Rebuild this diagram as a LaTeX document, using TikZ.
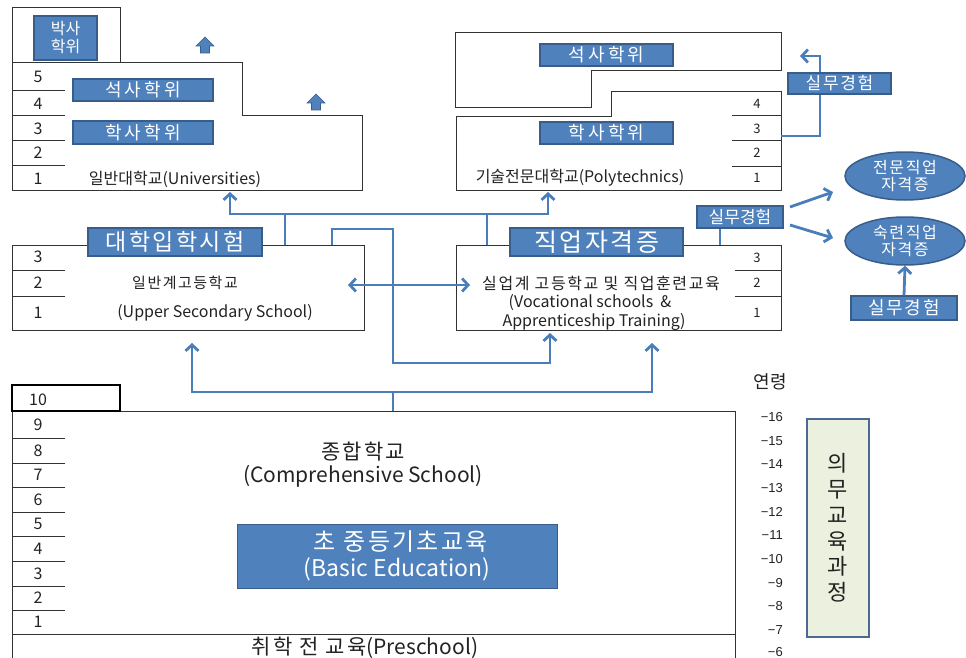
\documentclass[tikz,border=0pt]{standalone}
\usepackage{fontspec}
\setmainfont{Noto Sans CJK KR}
\newfontfamily\krw[LetterSpace=10]{Noto Sans CJK KR}
\newfontfamily\krww[LetterSpace=18]{Noto Sans CJK KR}
\newfontfamily\agefont{Liberation Sans}
\usetikzlibrary{arrows.meta,shapes.geometric}
\definecolor{bfill}{HTML}{4F81BD}
\definecolor{bdraw}{HTML}{385D8A}
\definecolor{lblue}{HTML}{4A7EBB}
\definecolor{gfill}{HTML}{EBF1DE}
\definecolor{gdraw}{HTML}{4A6A93}
\definecolor{ink}{HTML}{222222}
\definecolor{frame}{HTML}{333333}
\newcommand\fz[2]{\fontsize{#1}{#2}\selectfont}
\tikzset{
  bluebox/.style={draw=bdraw, fill=bfill, line width=1.5pt, text=white, inner sep=0pt, align=center},
  frm/.style={draw=frame, line width=1pt},
  conn/.style={draw=lblue, line width=2.8pt},
  lbl/.style={text=ink, inner sep=0pt, align=center},
  num/.style={text=ink, inner sep=0pt, font=\fz{16}{18}},
  rnum/.style={text=ink, inner sep=0pt, font=\fz{13}{15}},
  age/.style={text=ink, inner sep=0pt, anchor=east, font=\agefont\fz{13}{15}},
  oval/.style={ellipse, draw=bdraw, fill=bfill, line width=1.5pt, text=white, inner sep=0pt, align=center, font=\krw\fz{16}{17}},
  blockarrow/.style={fill=bfill, draw=bdraw, line width=0.6pt},
}
\begin{document}
\begin{tikzpicture}[x=1pt, y=-1pt, >={Straight Barb[length=6pt,width=13pt]}]
\useasboundingbox (0,0) rectangle (966,658);

% ---------------- Universities ----------------
\draw[frm] (12,8) -- (120,8) -- (120,63) -- (242,63) -- (242,116) -- (362,116) -- (362,190) -- (12,190) -- cycle;
\draw[frm] (12,63) -- (120,63);
\foreach \y in {91,116,141,165} \draw[frm] (12,\y) -- (65,\y);
\node[num] (u5) at (38,77) {5};
\node[num] (u4) at (38,104) {4};
\node[num] (u3) at (38,129) {3};
\node[num] (u2) at (38,153) {2};
\node[num] (u1) at (38,179) {1};
\node[bluebox, minimum width=63pt, minimum height=44pt, font=\fz{16}{18}] (phd) at (65.5,38) {박사\\학위};
\node[bluebox, minimum width=140pt, minimum height=22pt, font=\krww\fz{18}{19}] (ms1) at (143,90) {석사학위};
\node[bluebox, minimum width=140pt, minimum height=23pt, font=\krww\fz{18}{19}] (ba1) at (143,132.5) {학사학위};
\node[lbl, font=\fz{16}{18}] (univ) at (175,179) {일반대학교(Universities)};
\foreach \x/\y in {205/37, 316/94}
  \draw[blockarrow] (\x,\y) -- (\x+9,\y+9) -- (\x+4.5,\y+9) -- (\x+4.5,\y+16) -- (\x-4.5,\y+16) -- (\x-4.5,\y+9) -- (\x-9,\y+9) -- cycle;

% ---------------- Polytechnics ----------------
\draw[frm] (455,33) -- (781,33) -- (781,71) -- (591,71) -- (591,108) -- (455,108) -- cycle;
\draw[frm] (456,117) -- (611,117) -- (611,92) -- (781,92) -- (781,190) -- (456,190) -- cycle;
\foreach \y in {116,141,166} \draw[frm] (732,\y) -- (781,\y);
\node[rnum] (p4) at (757,104) {4};
\node[rnum] (p3) at (757,129) {3};
\node[rnum] (p2) at (757,153) {2};
\node[rnum] (p1) at (757,178) {1};
\node[bluebox, minimum width=133pt, minimum height=22pt, font=\krww\fz{18}{19}] (ms2) at (606.5,55) {석사학위};
\node[bluebox, minimum width=133pt, minimum height=22pt, font=\krww\fz{18}{19}] (ba2) at (606.5,133) {학사학위};
\node[lbl, font=\fz{16}{18}] (poly) at (580,178) {기술전문대학교(Polytechnics)};

% ---------------- Upper secondary ----------------
\node[frm, minimum width=352pt, minimum height=85pt, inner sep=0pt] (uss) at (188,287.5) {};
\foreach \y in {270,296} \draw[frm] (12,\y) -- (65,\y);
\node[num] (s3) at (38,257) {3};
\node[num] (s2) at (38,283) {2};
\node[num] (s1) at (38,313) {1};
\node[lbl, font=\krw\fz{15}{17}] (usskr) at (185,283) {일반계고등학교};
\node[lbl, font=\fz{16}{18}] (ussen) at (215,313) {(Upper Secondary School)};

% ---------------- Vocational ----------------
\node[frm, minimum width=325pt, minimum height=85pt, inner sep=0pt] (voc) at (618.5,287.5) {};
\foreach \y in {270,296} \draw[frm] (735,\y) -- (781,\y);
\node[rnum] (v3) at (757,258) {3};
\node[rnum] (v2) at (757,283) {2};
\node[rnum] (v1) at (757,313) {1};
\node[lbl, font=\krw\fz{16}{18}] (voc1) at (601,283) {실업계 고등학교 및 직업훈련교육};
\node[lbl, font=\fz{16}{18}] (voc2) at (590,303) {(Vocational schools \ \&};
\node[lbl, font=\fz{16}{18}] (voc3) at (594,322) {Apprenticeship Training)};

% ---------------- Comprehensive ----------------
\node[frm, minimum width=723pt, minimum height=223pt, inner sep=0pt] (comp) at (373.5,522.5) {};
\draw[frm] (12,634) -- (12,658);
\draw[frm] (735,634) -- (735,658);
\foreach \y in {438,463,487,512,536,561,586,610} \draw[frm] (12,\y) -- (65,\y);
\node[draw=black, line width=2pt, minimum width=108pt, minimum height=26pt, inner sep=0pt] (ten) at (66,398) {};
\node[num] (c10) at (38,400) {10};
\node[num] (c9) at (38,424.5) {9};
\node[num] (c8) at (38,450.5) {8};
\node[num] (c7) at (38,475) {7};
\node[num] (c6) at (38,499.5) {6};
\node[num] (c5) at (38,524) {5};
\node[num] (c4) at (38,548.5) {4};
\node[num] (c3) at (38,573.5) {3};
\node[num] (c2) at (38,598) {2};
\node[num] (c1) at (38,622) {1};
\node[lbl, font=\krw\fz{21}{22}] (compkr) at (363,452) {종합학교};
\node[lbl, font=\fz{21}{23}] (compen) at (363,476) {(Comprehensive School)};
\node[bluebox, line width=1pt, minimum width=320pt, minimum height=64pt, font=\fz{23}{26}] (basic) at (397,556) {{\krw\fz{24}{26} 초 중등기초교육}\\(Basic Education)};
\node[lbl, font=\fz{21}{23}] (pre) at (365,648) {{\krw 취학 전 교육}(Preschool)};

% ---------------- Ages ----------------
\node[lbl, font=\fz{18}{20}] (agehead) at (770,382) {연령};
\foreach \a/\y in {16/417,15/441,14/464,13/488,12/512,11/535,10/559,9/583,8/606,7/630,6/652}
  \node[age] (age\a) at (783,\y) {−\a};
\node[draw=gdraw, fill=gfill, line width=2.5pt, minimum width=62pt, minimum height=218pt, inner sep=0pt, align=center, text=ink, font=\fz{22}{25.8}] (compul) at (838,528) {의\\무\\교\\육\\과\\정};

% ---------------- Connectors ----------------
\coordinate (univB) at (230,192);
\coordinate (polyB) at (548,192);
\coordinate (j1) at (285,214);
\coordinate (j2) at (487,214);
\draw[conn,<->] (univB) -- (univB |- j1) -- (polyB |- j1) -- (polyB);
\draw[conn] (uss.north -| j1) -- (j1);
\draw[conn] (voc.north -| j2) -- (j2);

\coordinate (k1) at (332,229);
\coordinate (k2) at (393,363);
\coordinate (vocB1) at (550,333);
\draw[conn,->] (uss.north -| k1) -- (k1) -| (k2) -| (vocB1);

\coordinate (da1) at (348,285);
\coordinate (da2) at (470,285);
\draw[conn,<->] (da1) -- (da2);

\coordinate (b0) at (393,392);
\coordinate (ussB) at (192,343);
\coordinate (vocB2) at (652,343);
\draw[conn] (comp.north -| b0) -- (b0);
\draw[conn,<->] (ussB) |- (b0) -| (vocB2);

% practice experience (top right)
\coordinate (polyR3) at (781,136);
\coordinate (s1a) at (820,136);
\coordinate (s1b) at (800,56);
\draw[conn,->] (polyR3) -- (s1a) |- (s1b);
\node[bluebox, minimum width=103pt, minimum height=21pt, font=\krw\fz{17}{19}] (sm1) at (839.5,83.5) {실무경험};

% middle practice experience
\node[bluebox, minimum width=86pt, minimum height=22pt, font=\fz{17}{19}] (sm2) at (740,217) {실무경험};
\coordinate (s2d) at (720,245);
\draw[conn] (sm2.south -| s2d) -- (s2d);
\node[oval, minimum width=120pt, minimum height=48pt] (e1) at (905,176) {전문직업\\자격증};
\node[oval, minimum width=120pt, minimum height=48pt] (e2) at (905,241) {숙련직업\\자격증};
\coordinate (a1s) at (790,207);
\coordinate (a1e) at (833,192);
\coordinate (a2s) at (790,225);
\coordinate (a2e) at (833,238);
\draw[conn,->] (a1s) -- (a1e);
\draw[conn,->] (a2s) -- (a2e);
\node[bluebox, minimum width=106pt, minimum height=24pt, font=\krw\fz{18}{20}] (sm3) at (904,308) {실무경험};
\draw[conn,->] (sm3.north) -- (e2.south);

% title boxes on top of the frames
\node[bluebox, minimum width=174pt, minimum height=28pt, font=\krw\fz{23}{25}] (exam) at (175,242) {대학입학시험};
\node[bluebox, minimum width=173pt, minimum height=28pt, font=\krw\fz{25}{27}] (cert) at (596.5,242) {직업자격증};
\end{tikzpicture}
\end{document}
